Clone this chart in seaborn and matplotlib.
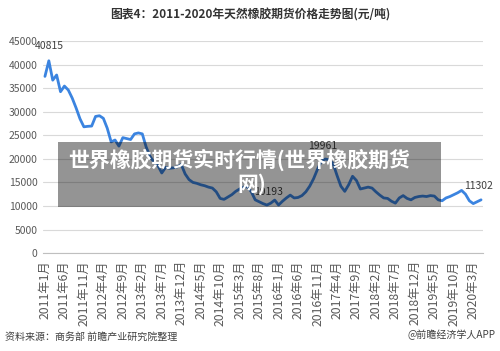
import matplotlib
matplotlib.use("Agg")
import matplotlib.pyplot as plt
import seaborn as sns
import pandas as pd
from matplotlib.patches import Rectangle

# monthly prices 2011-01 .. 2020-05 (yuan/ton)
prices = [
    37500, 40815, 36700, 37800, 34250, 35450, 34600, 32900, 30800, 28500,
    26800, 26900, 26960, 29000, 29150, 28600, 26500, 23600, 24000, 22700,
    24500, 24300, 24100, 25300, 25500, 25300, 22500, 20500, 19300, 18600,
    17000, 18200, 18000, 18100, 18300, 18800, 16800, 15600, 15000, 14800,
    14500, 14300, 14000, 13800, 13000, 11600, 11400, 11900, 12400, 13100,
    13600, 14000, 14100, 13000, 11300, 10900, 10500, 10193, 10600, 11250,
    10200, 11000, 11700, 12300, 11700, 11800, 12200, 13000, 14200, 15800,
    17800, 19500, 19961, 19800, 19000, 16500, 14200, 13100, 14500, 16300,
    15400, 13600, 13800, 14000, 13800, 13000, 12300, 11700, 11600, 11000,
    10600, 11700, 12200, 11600, 11300, 11800, 12000, 12100, 12000, 12200,
    12100, 11300, 11100, 11700, 12000, 12400, 12800, 13300, 12500, 11100,
    10500, 10900, 11302,
]
tick_labels = [
    "2011年1月", "2011年6月", "2011年11月", "2012年4月", "2012年9月",
    "2013年2月", "2013年7月", "2013年12月", "2014年5月", "2014年10月",
    "2015年3月", "2015年8月", "2016年1月", "2016年6月", "2016年11月",
    "2017年4月", "2017年9月", "2018年2月", "2018年7月", "2018年12月",
    "2019年5月", "2019年10月", "2020年3月",
]
annot_idx = [1, 57, 72, 112]
annot_text = ["40815", "10193", "19961", "11302"]

title = "图表4：2011-2020年天然橡胶期货价格走势图(元/吨)"
source = "资料来源：商务部 前瞻产业研究院整理"
brand = "@前瞻经济学人APP"
banner_line1 = "世界橡胶期货实时行情(世界橡胶期货"
banner_line2 = "网)"

sns.set_style("white")
plt.rcParams["font.family"] = ["Noto Sans CJK SC", "DejaVu Sans"]

df = pd.DataFrame({"m": range(len(prices)), "price": prices})

fig = plt.figure(figsize=(5.0, 3.51), dpi=100)
ax = fig.add_axes([0.086, 0.279, 0.880, 0.604])
sns.lineplot(data=df, x="m", y="price", ax=ax, color="#3b84e0", linewidth=2.0)

ax.set_xlim(-0.5, len(prices) - 0.5)
ax.set_ylim(0, 45000)
ax.set_yticks(range(0, 45001, 5000))
ax.set_yticklabels([str(v) for v in range(0, 45001, 5000)], fontsize=7.5, color="#595959")
ax.set_xticks(range(0, 5 * len(tick_labels), 5))
ax.set_xticklabels(tick_labels, rotation=90, fontsize=8.8, color="#595959")
ax.grid(axis="y", color="#d9d9d9", linewidth=0.8)
ax.set_xlabel("")
ax.set_ylabel("")
for s in ["top", "right", "left"]:
    ax.spines[s].set_visible(False)
ax.spines["bottom"].set_color("#bfbfbf")
ax.tick_params(axis="x", length=3, color="#bfbfbf", pad=2)
ax.tick_params(axis="y", length=0, pad=4)

offsets = [(0, 7), (1, 6), (-2, 6), (-2, 6)]
for i, t, off in zip(annot_idx, annot_text, offsets):
    ax.annotate(t, (i, prices[i]), xytext=off, textcoords="offset points",
                ha="center", va="bottom", fontsize=7.5, color="#404040")

fig.text(0.5, 0.957, title, ha="center", va="center", fontsize=8.5,
         fontweight="bold", color="#333333")
fig.text(0.01, 0.04, source, ha="left", va="center", fontsize=7.2, color="#404040")
fig.text(0.99, 0.045, brand, ha="right", va="center", fontsize=7.2, color="#404040")

fig.patches.append(Rectangle((58 / 500, 1 - 207 / 351), (441 - 58) / 500, (207 - 142) / 351,
                             transform=fig.transFigure, facecolor="black", alpha=0.42,
                             edgecolor="none", zorder=5))
fig.text(239 / 500, 1 - 160 / 351, banner_line1, ha="center", va="center", fontsize=15,
         fontweight="bold", color="white", zorder=6)
fig.text(252 / 500, 1 - 184 / 351, banner_line2, ha="center", va="center", fontsize=15,
         fontweight="bold", color="white", zorder=6)

fig.savefig("out.png", dpi=100)
